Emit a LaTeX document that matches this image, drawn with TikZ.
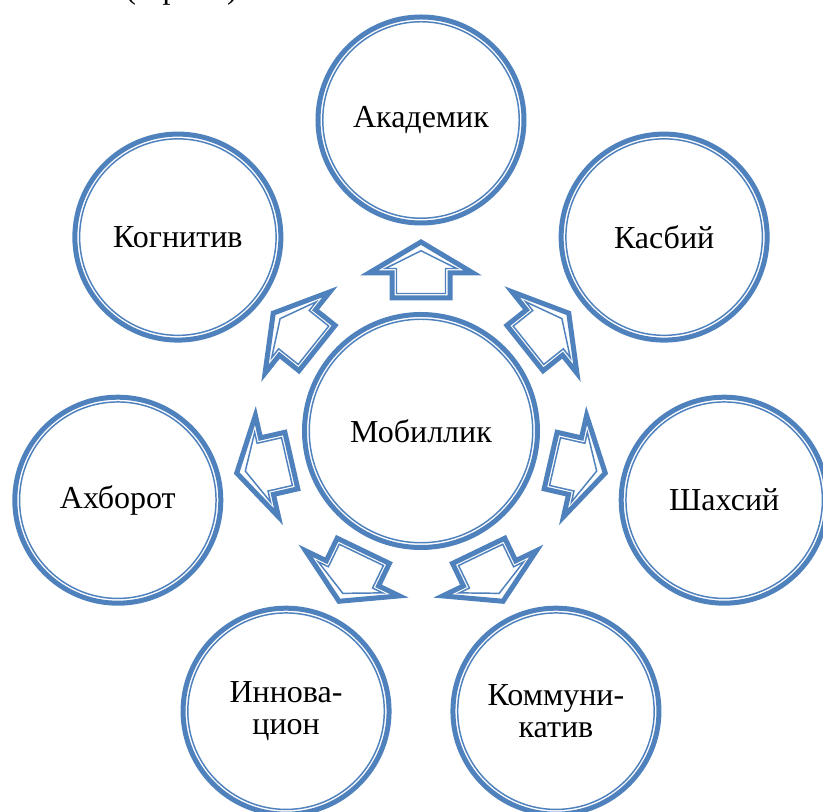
\documentclass[tikz,border=0pt]{standalone}
\usepackage{fontspec}
\setmainfont{Liberation Serif}
\usetikzlibrary{positioning}
\definecolor{ringblue}{RGB}{79,129,189}

\begin{document}
\begin{tikzpicture}[
        x=0.75pt, y=0.75pt,
        item font/.style={font=\fontsize{24}{23.5}\selectfont},
        ring/.style={circle, draw=ringblue, line width=3.75pt, fill=white, item font, align=center, inner sep=0pt},
        petal/.style={ring, minimum size=154.5pt},
        hub/.style={ring, minimum size=174.75pt},
        inner ring/.style={draw=ringblue, line width=1.1pt},
        block arrow/.style={draw=ringblue, line width=3.75pt, line join=miter, fill=white},
        block arrow inner/.style={draw=ringblue, line width=1.1pt, line join=miter},
    ]
    \useasboundingbox (-421,-381) rectangle (402,431);
    % caption, cut off by the top edge
    \node[item font, anchor=base west, inner sep=0pt] (caption) at (-296,432) {(1-расм)};
    % CENTRE
    \node[hub] (hub) at (0,0) {Мобиллик};
    \draw[inner ring] (hub.center) circle (111.75);
    % PETALS with their block arrows
    \foreach \name/\txt [count=\i] in {acad/Академик, prof/Касбий, pers/Шахсий, comm/{Коммуни-\\катив}, innov/{Иннова-\\цион}, info/Ахборот, cogn/Когнитив} {
        \pgfmathsetmacro\ang{90-(\i-1)*360/7}
        \node[petal] (\name) at (\ang:311) {\txt};
        \draw[inner ring] (\name.center) circle (98.25);
        \begin{scope}[shift={(hub.center)}, rotate=\ang]
            \draw[block arrow] (133,-29) -- (158,-29) -- (158,-52) -- (189,0) -- (158,52) -- (158,29) -- (133,29) -- cycle;
            \draw[block arrow inner] (137.5,-24.5) -- (162.5,-24.5) -- (162.5,-35.66) -- (180.2,0) -- (162.5,35.66) -- (162.5,24.5) -- (137.5,24.5) -- cycle;
        \end{scope}
    }
\end{tikzpicture}
\end{document}
